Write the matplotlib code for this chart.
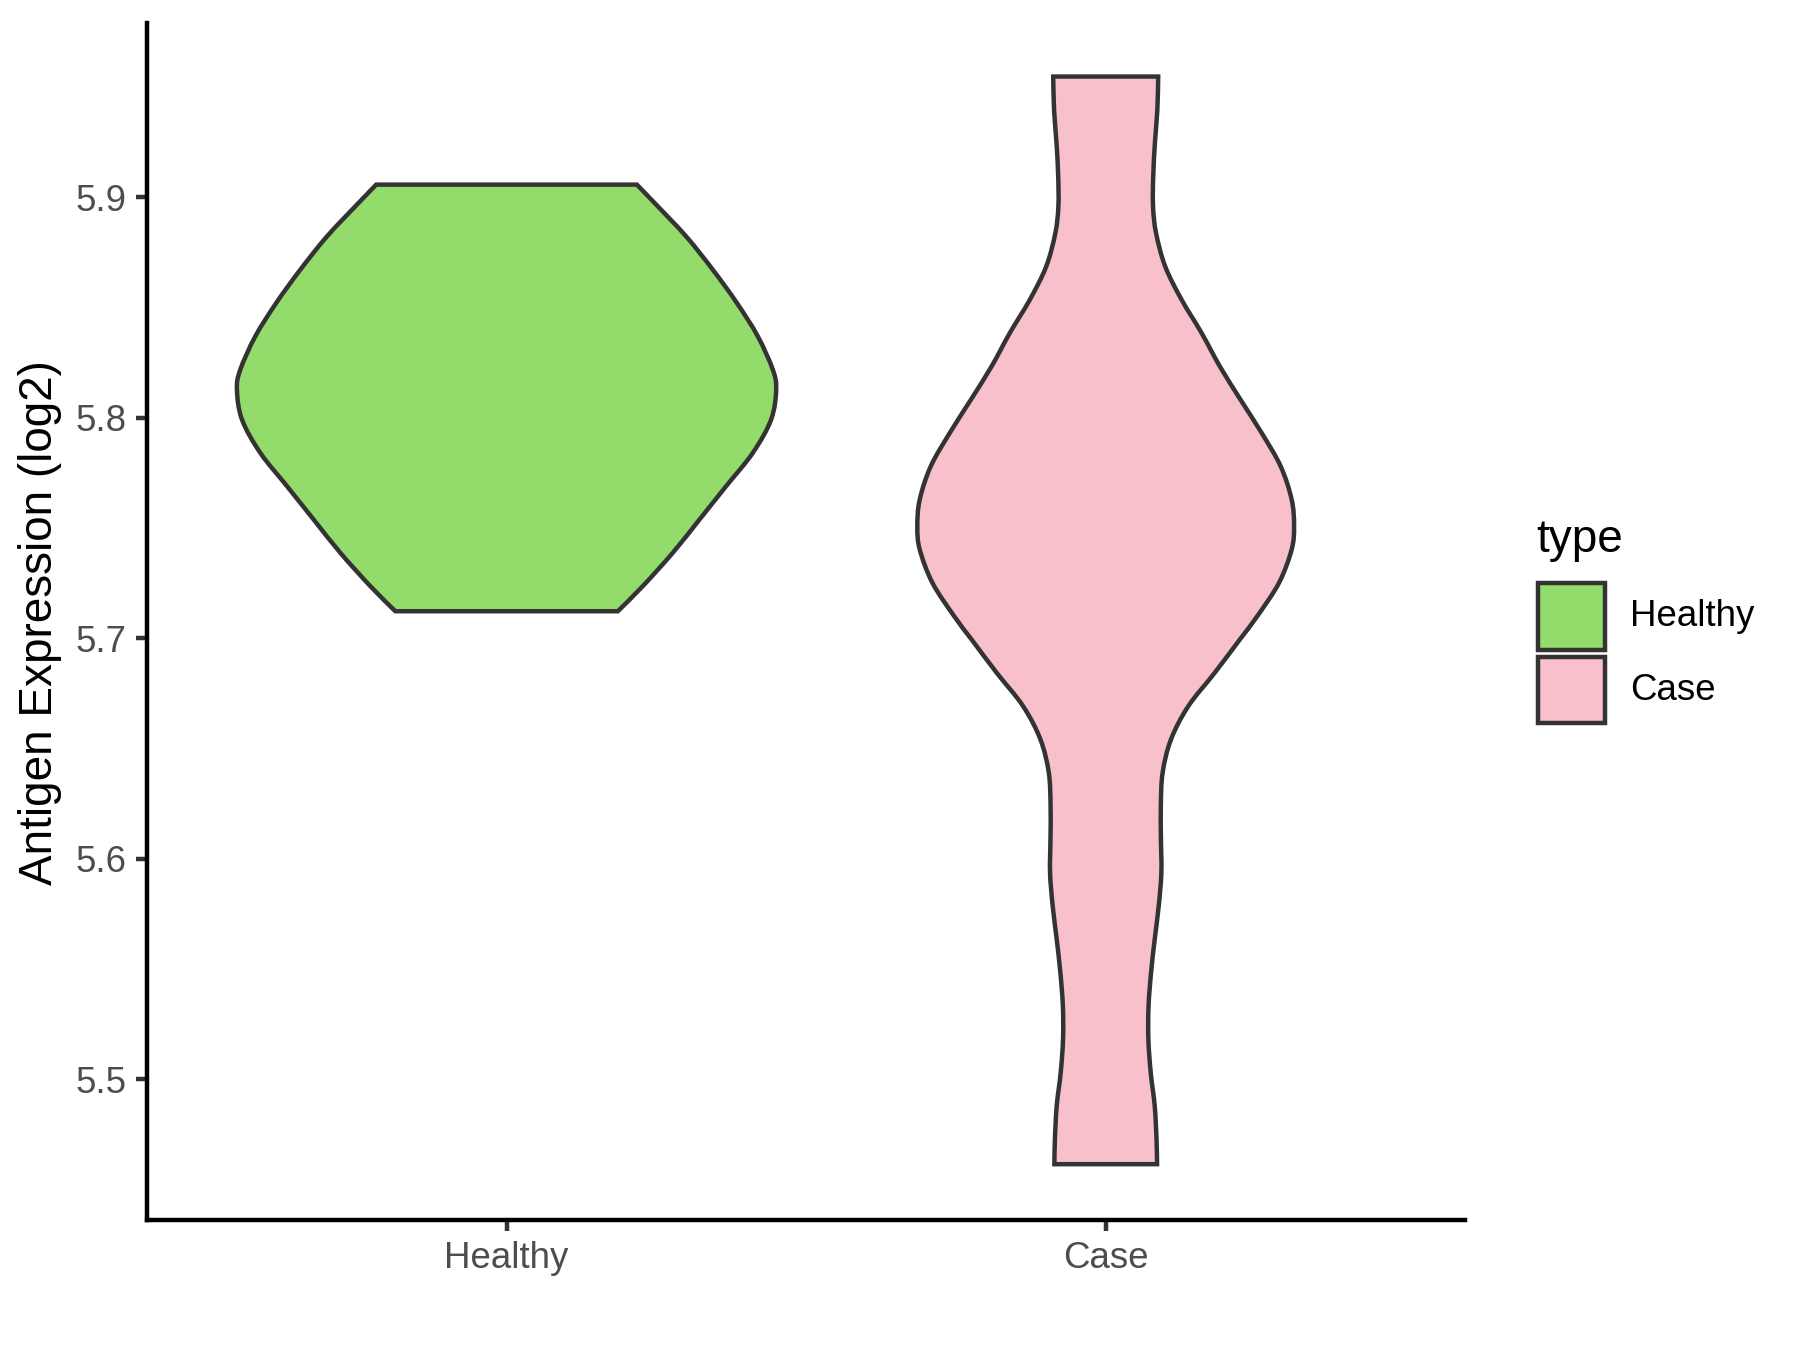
import numpy as np
import matplotlib
matplotlib.use('Agg')
import matplotlib.pyplot as plt
from matplotlib.path import Path
from matplotlib.patches import PathPatch, Rectangle

plt.rcParams['font.family'] = ['Liberation Sans', 'DejaVu Sans']

# categories and colours
groups = ["Healthy", "Case"]
fill_colors = ["#93DB6B", "#F7C0CB"]
edge_color = "#333333"

# violin outlines: y level and half-width (x units)
healthy_y = [5.7123, 5.7237, 5.7388, 5.7539, 5.7690, 5.7841, 5.7992, 5.8128,
             5.8218, 5.8369, 5.8521, 5.8671, 5.8822, 5.8974, 5.9057]
healthy_hw = [0.1857, 0.2275, 0.2775, 0.3221, 0.3665, 0.4110, 0.4416, 0.4500,
              0.4444, 0.4194, 0.3843, 0.3443, 0.2998, 0.2470, 0.2175]

case_y = [5.4616, 5.4729, 5.4880, 5.5032, 5.5183, 5.5333, 5.5485, 5.5636,
          5.5787, 5.5938, 5.6089, 5.6240, 5.6391, 5.6542, 5.6693, 5.6844,
          5.6995, 5.7101, 5.7252, 5.7403, 5.7508, 5.7629, 5.7780, 5.7932,
          5.8082, 5.8233, 5.8385, 5.8536, 5.8686, 5.8838, 5.8958, 5.9094,
          5.9246, 5.9396, 5.9547]
case_hw = [0.0857, 0.0848, 0.0818, 0.0751, 0.0712, 0.0715, 0.0757, 0.0818,
           0.0885, 0.0929, 0.0922, 0.0920, 0.0950, 0.1090, 0.1380, 0.1820,
           0.2239, 0.2531, 0.2893, 0.3104, 0.3144, 0.3104, 0.2920, 0.2601,
           0.2250, 0.1905, 0.1599, 0.1265, 0.0993, 0.0840, 0.0790, 0.0793,
           0.0821, 0.0862, 0.0876]

y_ticks = [5.5, 5.6, 5.7, 5.8, 5.9]
y_tick_labels = ["5.5", "5.6", "5.7", "5.8", "5.9"]


def side_curve(pts):
    # catmull-rom through the read points, as cubic bezier pieces
    verts, codes = [], []
    n = len(pts)
    for i in range(n - 1):
        p0 = pts[i - 1] if i > 0 else pts[i]
        p1, p2 = pts[i], pts[i + 1]
        p3 = pts[i + 2] if i + 2 < n else pts[i + 1]
        verts += [p1 + (p2 - p0) / 6, p2 - (p3 - p1) / 6, p2]
        codes += [Path.CURVE4] * 3
    return verts, codes


def violin_path(center, ys, hws):
    ys = np.asarray(ys)
    hws = np.asarray(hws)
    left = np.column_stack([center - hws, ys])            # bottom -> top
    right = np.column_stack([center + hws, ys])[::-1]     # top -> bottom
    verts = [left[0]]
    codes = [Path.MOVETO]
    v, c = side_curve(left)
    verts += v; codes += c
    verts.append(right[0]); codes.append(Path.LINETO)
    v, c = side_curve(right)
    verts += v; codes += c
    verts.append(left[0]); codes.append(Path.CLOSEPOLY)
    return Path(np.array(verts), codes)


fig = plt.figure(figsize=(6, 4.5), dpi=300)
ax = fig.add_axes([0.0817, 0.0963, 0.7323, 0.8867])

lw = 1.07
profiles = [(healthy_y, healthy_hw), (case_y, case_hw)]
for i, ((ys, hws), col) in enumerate(zip(profiles, fill_colors)):
    patch = PathPatch(violin_path(i + 1, ys, hws), facecolor=col,
                      edgecolor=edge_color, linewidth=lw, joinstyle='miter')
    ax.add_patch(patch)

ax.set_xlim(0.4, 2.6)
ax.set_ylim(5.4363, 5.979)
ax.set_xticks([1, 2])
ax.set_xticklabels(groups)
ax.set_yticks(y_ticks)
ax.set_yticklabels(y_tick_labels)

for s in ['top', 'right']:
    ax.spines[s].set_visible(False)
for s in ['left', 'bottom']:
    ax.spines[s].set_linewidth(lw)
    ax.spines[s].set_color('black')

ax.tick_params(axis='both', length=2.75, width=lw, color=edge_color,
               labelcolor='#4D4D4D', labelsize=8.8, pad=2.2)

fig.text(0.0223, 0.539, "Antigen Expression (log2)", rotation=90,
         ha='center', va='center', fontsize=11, color='black')

# legend
fig.text(0.8533, 0.6003, "type", ha='left', va='center', fontsize=11)
key_w, key_h = 0.037, 0.0495
key_tops = [0.5680, 0.5136]
for col, top, lab in zip(fill_colors, key_tops, groups):
    fig.add_artist(Rectangle((0.8546, top - key_h), key_w, key_h,
                             transform=fig.transFigure, facecolor=col,
                             edgecolor=edge_color, linewidth=lw))
    fig.text(0.9056, top - key_h / 2, lab, ha='left', va='center',
             fontsize=8.8, color='black')

fig.savefig("out.png", dpi=300)
